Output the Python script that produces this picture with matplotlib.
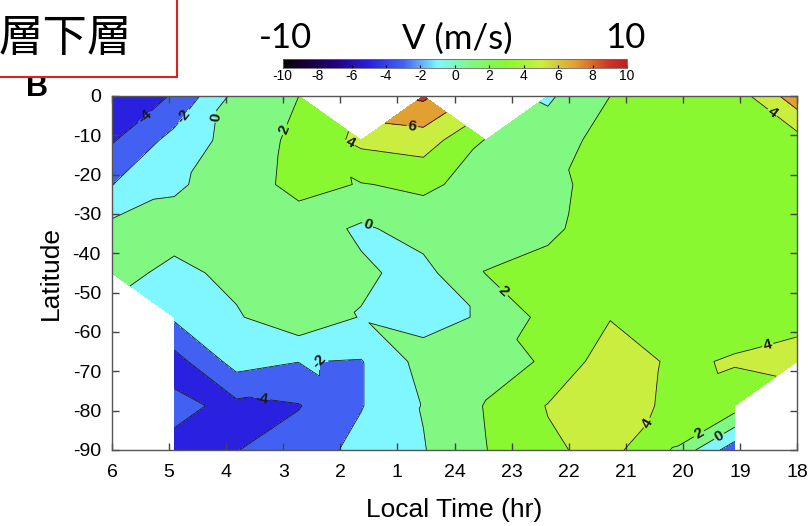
import numpy as np
import matplotlib.pyplot as plt
import matplotlib.tri as mtri
from matplotlib.colors import LinearSegmentedColormap, Normalize
from matplotlib.patches import Rectangle

plt.rcParams['axes.unicode_minus'] = False
plt.rcParams['contour.negative_linestyle'] = 'solid'

# 12 local-time bins spanning 06 LT -> 18 LT through midnight, 9 latitude rows
hour_labels = ['6', '5', '4', '3', '2', '1', '24', '23', '22', '21', '20', '19', '18']
lat_ticks = [0, -10, -20, -30, -40, -50, -60, -70, -80, -90]
lt_bins = np.linspace(0, 12, 12)
lat_rows = np.linspace(0, -90, 9)
nan = np.nan

# meridional wind V (m/s), rows = latitude (0 .. -90), cols = local-time bins
v_row0 = [-5.8, -3.8, 0.6, 2.0, nan, 8.4, nan, -0.3, 2.0, 3.0, 2.9, 7.2]
v_row1 = [-4.2, -1.3, 0.8, 2.5, 4.5, 5.0, 1.9, 1.0, 2.8, 3.0, 3.0, 3.2]
v_row2 = [-2.05, -0.3, 1.0, 2.6, 1.9, 2.4, 1.2, 1.6, 2.6, 3.0, 3.0, 3.2]
v_row3 = [0.6, 0.8, 1.2, 1.0, -0.3, 0.8, 1.2, 1.7, 2.8, 3.0, 3.1, 3.3]
v_row4 = [0.7, -0.5, 0.5, 0.8, 0.3, -0.6, 2.05, 2.5, 3.0, 3.0, 3.2, 3.4]
v_row5 = [nan, -1.7, -0.2, 1.4, -0.1, -0.6, 0.2, 2.7, 3.9, 3.2, 3.3, 3.6]
v_row6 = [nan, -4.8, -1.2, -1.95, -2.1, 0.7, 1.3, 2.2, 5.2, 3.7, 4.15, 4.5]
v_row7 = [nan, -3.5, -4.5, -4.1, -2.1, 0.1, 2.1, 4.1, 5.0, 3.6, 3.0, nan]
v_row8 = [nan, -4.5, -4.05, -3.1, -1.4, -0.1, 1.95, 3.7, 4.6, 1.9, -3.2, nan]
V = np.array([v_row0, v_row1, v_row2, v_row3, v_row4, v_row5, v_row6, v_row7, v_row8])

levels = np.arange(-10, 11, 2)
cmap = LinearSegmentedColormap.from_list('vwind', [
    (0.00, '#000000'), (0.05, '#14002a'), (0.15, '#22007a'), (0.25, '#2a1fe0'),
    (0.35, '#4262f2'), (0.45, '#80f6ff'), (0.55, '#80f880'), (0.65, '#88f830'),
    (0.75, '#c8f040'), (0.85, '#e2a032'), (0.95, '#cc3424'), (1.00, '#c02020')])
norm = Normalize(-10, 10)

# triangulate the grid: next to a gap keep the diagonal that avoids the missing
# corner, elsewhere split along the diagonal with the smaller change in V
xx, yy = np.meshgrid(lt_bins, lat_rows)
nr, nc = V.shape
idx = np.arange(nr * nc).reshape(nr, nc)
bad = np.isnan(V)
tris = []
for j in range(nr - 1):
    for i in range(nc - 1):
        a, b, c, d = idx[j, i], idx[j, i + 1], idx[j + 1, i], idx[j + 1, i + 1]
        if bad[j, i] or bad[j + 1, i + 1]:
            use_bc = True
        elif bad[j, i + 1] or bad[j + 1, i]:
            use_bc = False
        else:
            use_bc = abs(V[j, i + 1] - V[j + 1, i]) < abs(V[j, i] - V[j + 1, i + 1])
        cand = [(a, b, c), (b, d, c)] if use_bc else [(a, b, d), (a, d, c)]
        for t in cand:
            if not bad.ravel()[list(t)].any():
                tris.append(t)
tri = mtri.Triangulation(xx.ravel(), yy.ravel(), np.array(tris))
z = np.where(bad, 0.0, V).ravel()

fig = plt.figure(figsize=(8.08, 5.26), dpi=100)
ax = fig.add_axes([0.1386, 0.1445, 0.8478, 0.673])

ax.tricontourf(tri, z, levels=levels, cmap=cmap, norm=norm)
cs = ax.tricontour(tri, z, levels=levels, colors='#1a1a1a', linewidths=0.6)
label_pos = [(0.58, -5.4), (1.28, -5.4), (1.86, -5.4), (3.0, -8.4), (4.13, -13),
             (5.26, -7.7), (4.48, -32.7), (6.85, -49.9), (3.61, -67.2), (2.63, -76.2),
             (11.55, -4.6), (11.49, -63.4), (9.37, -83.1), (10.25, -85.1), (10.65, -86.9)]
lbls = ax.clabel(cs, manual=label_pos, fmt='%d', fontsize=11, inline=True, inline_spacing=1)
for t in lbls:
    t.set_fontweight('bold')
    t.set_family('Liberation Sans')

ax.set_xlim(0, 12)
ax.set_ylim(-90, 0)
ax.set_xticks(range(13))
ax.set_xticklabels(hour_labels, fontsize=14, family='Liberation Sans')
ax.set_yticks(lat_ticks)
ax.set_yticklabels([str(v) for v in lat_ticks], fontsize=14, family='Liberation Sans')
ax.tick_params(direction='in', length=5, width=1, color='#444444', top=True, right=True)
ax.tick_params(axis='x', pad=10)
ax.tick_params(axis='y', pad=8)
for s in ax.spines.values():
    s.set_color('#555555')
    s.set_linewidth(1)
ax.set_xlabel('Local Time (hr)', fontsize=19, family='Liberation Sans', labelpad=12)
ax.set_ylabel('Latitude', fontsize=19, family='Liberation Sans', labelpad=7)

# colour bar along the top
cax = fig.add_axes([0.350, 0.871, 0.426, 0.017])
sm = plt.cm.ScalarMappable(norm=norm, cmap=cmap)
cb = fig.colorbar(sm, cax=cax, orientation='horizontal', ticks=levels)
cb.ax.tick_params(labelsize=10, length=2, direction='in', pad=1)
for t in cb.ax.get_xticklabels():
    t.set_family('Liberation Sans')
cb.outline.set_linewidth(0.6)
cb.outline.set_edgecolor('#666666')

fig.text(0.353, 0.927, '-10', fontsize=25, family='Lato', ha='center', va='center')
fig.text(0.566, 0.927, 'V (m/s)', fontsize=25, family='Lato', ha='center', va='center')
fig.text(0.774, 0.927, '10', fontsize=25, family='Lato', ha='center', va='center')

fig.text(0.046, 0.832, 'B', fontsize=22, fontweight='bold', family='Liberation Sans',
         ha='center', va='center', zorder=1)
fig.patches.append(Rectangle((-0.01, 0.8536), 0.229, 0.2, transform=fig.transFigure,
                             facecolor='white', edgecolor='#e02020', linewidth=1.5, zorder=2))
fig.text(0.081, 0.928, '層下層', fontsize=32, family=['Noto Sans CJK JP', 'DejaVu Sans'],
         ha='center', va='center', zorder=3)

fig.savefig('out.png', dpi=100)
